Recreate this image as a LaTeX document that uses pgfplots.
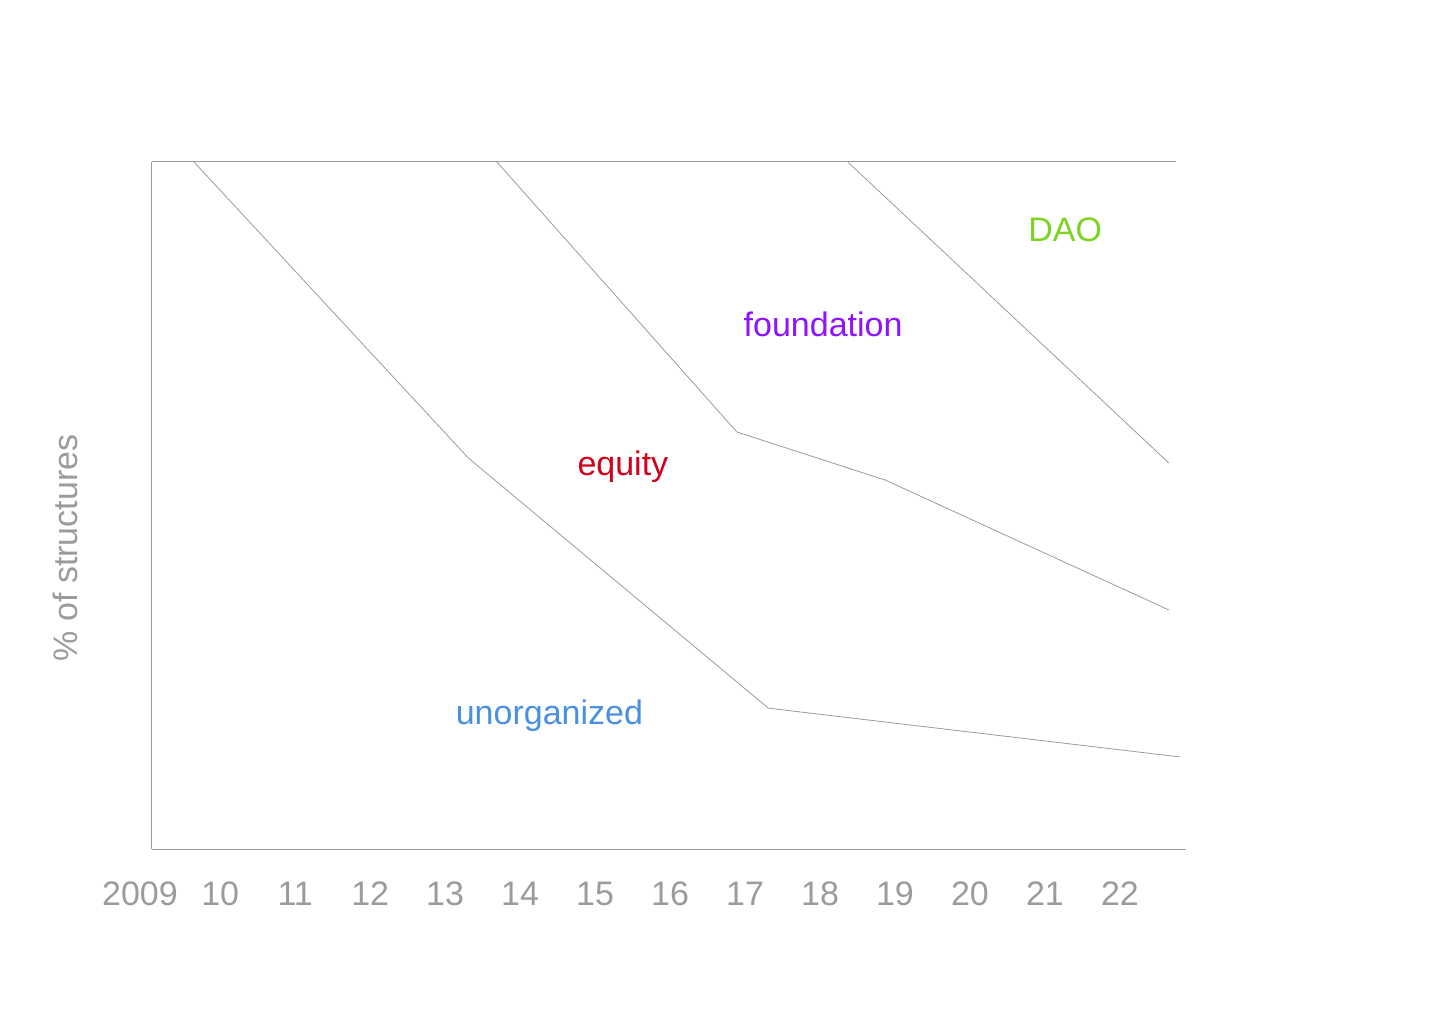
\documentclass[border=0pt]{standalone}
\usepackage{pgfplots}
\pgfplotsset{compat=1.18}
\usepackage{fontspec}
\setmainfont{Liberation Sans}
\definecolor{tg}{HTML}{9B9B9B}
\definecolor{cdao}{HTML}{7ED321}
\definecolor{cfou}{HTML}{9013FE}
\definecolor{cequ}{HTML}{D0021B}
\definecolor{cuno}{HTML}{4A90E2}
\begin{document}
\begin{tikzpicture}
\path[use as bounding box] (0,0) rectangle (720pt,512pt);
\begin{axis}[
  at={(76pt,87.5pt)}, anchor=south west,
  scale only axis, width=517pt, height=343.5pt,
  xmin=2009.09, xmax=2022.88, ymin=0, ymax=100,
  axis x line*=bottom, axis y line*=left,
  axis line style={tg, line width=0.5pt},
  xtick={2010,...,2022},
  xticklabels={10,11,12,13,14,15,16,17,18,19,20,21,22},
  ytick=\empty, major tick length=0pt,
  x tick label style={font=\fontsize{17}{17}\selectfont, text=tg, yshift=-13pt},
  clip=false,
]
\draw[tg, line width=0.5pt] (axis cs:2009.09,100) -- (axis cs:2022.75,100);
\addplot[tg, line width=0.4pt] coordinates {(2009.65,100) (2013.31,56.9) (2017.31,20.5) (2022.8,13.4)};
\addplot[tg, line width=0.4pt] coordinates {(2013.69,100) (2016.89,60.7) (2018.87,53.7) (2022.65,34.8)};
\addplot[tg, line width=0.4pt] coordinates {(2018.37,100) (2022.65,56.2)};
\node[anchor=north, yshift=-13pt, text=tg, font=\fontsize{17}{17}\selectfont] at (axis cs:2008.93,0) {2009};
\node[text=cdao, font=\fontsize{17}{17}\selectfont] at (axis cs:2021.27,90.1) {DAO};
\node[text=cfou, font=\fontsize{17}{17}\selectfont] at (axis cs:2018.04,76.3) {foundation};
\node[text=cequ, font=\fontsize{17}{17}\selectfont] at (axis cs:2015.37,55.7) {equity};
\node[text=cuno, font=\fontsize{17}{17}\selectfont] at (axis cs:2014.39,19.4) {unorganized};
\end{axis}
\node[rotate=90, text=tg, font=\fontsize{17}{17}\selectfont] at (32.5pt,238pt) {\% of structures};
\end{tikzpicture}
\end{document}
